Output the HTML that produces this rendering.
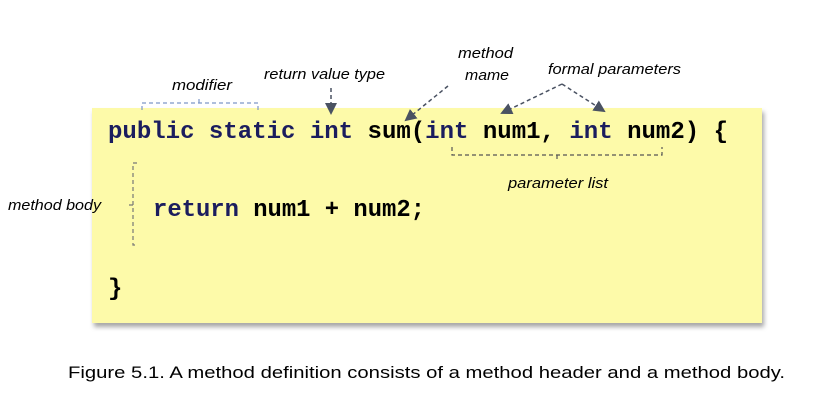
<!DOCTYPE html>
<html><head><meta charset="utf-8"><style>
html,body{margin:0;padding:0;background:#fff;width:833px;height:420px;overflow:hidden}
</style></head><body>
<svg width="833" height="420" xmlns="http://www.w3.org/2000/svg">
<defs>
<filter id="sh" x="-5%" y="-5%" width="110%" height="120%"><feDropShadow dx="2" dy="4" stdDeviation="2.5" flood-color="#000" flood-opacity="0.35"/></filter>
<marker id="ah" markerWidth="12" markerHeight="12" refX="10" refY="6" orient="auto" markerUnits="userSpaceOnUse"><path d="M0,0 L12,6 L0,12 z" fill="#4a5262"/></marker>
</defs>
<rect x="92" y="108" width="670" height="215" fill="#fdfaa9" filter="url(#sh)"/>
<g font-family="Liberation Mono, monospace" font-weight="bold" font-size="24">
<text x="108" y="138" textLength="620" lengthAdjust="spacingAndGlyphs"><tspan fill="#1b1d5e">public static int </tspan><tspan fill="#000">sum(</tspan><tspan fill="#1b1d5e">int </tspan><tspan fill="#000">num1, </tspan><tspan fill="#1b1d5e">int </tspan><tspan fill="#000">num2) {</tspan></text>
<text x="153" y="216" textLength="272" lengthAdjust="spacingAndGlyphs"><tspan fill="#1b1d5e">return </tspan><tspan fill="#000">num1 + num2;</tspan></text>
<text x="108" y="295" fill="#000">}</text>
</g>
<g font-family="Liberation Sans, sans-serif" font-style="italic" font-size="15" fill="#000" lengthAdjust="spacingAndGlyphs">
<text x="172" y="90" textLength="60" lengthAdjust="spacingAndGlyphs">modifier</text>
<text x="264" y="79" textLength="121" lengthAdjust="spacingAndGlyphs">return value type</text>
<text x="458" y="58" textLength="55" lengthAdjust="spacingAndGlyphs">method</text>
<text x="465" y="80" textLength="44" lengthAdjust="spacingAndGlyphs">mame</text>
<text x="548" y="74" textLength="133" lengthAdjust="spacingAndGlyphs">formal parameters</text>
<text x="508" y="188" textLength="100" lengthAdjust="spacingAndGlyphs">parameter list</text>
<text x="8" y="210" textLength="93" lengthAdjust="spacingAndGlyphs">method body</text>
</g>
<g fill="none" stroke-width="1.2" stroke-dasharray="4,3">
<path d="M142,110 V103 H258 V110 M199,103 V96" stroke="#7d96c8"/>
<path d="M452,147 V155 H662 V147 M557,155 V162" stroke="#555"/>
<path d="M137,163 H133 V245 H137 M133,205 H129" stroke="#777"/>
<g stroke="#4a5262" stroke-width="1.5">
<line x1="331" y1="88" x2="331" y2="113" marker-end="url(#ah)"/>
<line x1="448" y1="86" x2="406" y2="120" marker-end="url(#ah)"/>
<line x1="562" y1="84" x2="502" y2="113" marker-end="url(#ah)"/>
<line x1="562" y1="84" x2="604" y2="111" marker-end="url(#ah)"/>
</g>
</g>
<text x="68" y="378" font-family="Liberation Sans, sans-serif" font-size="17" fill="#000" textLength="717" lengthAdjust="spacingAndGlyphs">Figure 5.1. A method definition consists of a method header and a method body.</text>
</svg>
</body></html>
